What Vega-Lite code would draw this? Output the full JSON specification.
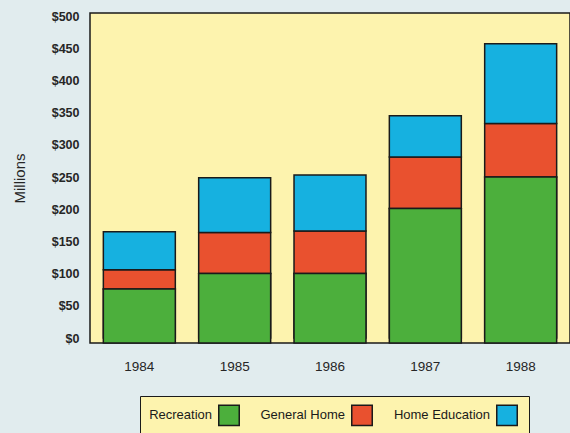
{
  "$schema": "https://vega.github.io/schema/vega-lite/v6.json",
  "width": 480,
  "height": 330,
  "autosize": {"type": "none"},
  "padding": {"left": 90, "top": 13, "right": 0, "bottom": 90},
  "background": "#e1ecee",
  "config": {
    "view": {"fill": "#fdf3ae", "stroke": "#1a1a1a", "strokeWidth": 1.5},
    "axis": {"labelFont": "Liberation Sans", "labelFontSize": 13, "labelColor": "#262626", "titleFont": "Liberation Sans", "titleColor": "#262626"}
  },
  "data": {
    "values": [
      {"year": "1984", "category": "Recreation", "order": 1, "value": 76},
      {"year": "1984", "category": "General Home", "order": 2, "value": 30},
      {"year": "1984", "category": "Home Education", "order": 3, "value": 59},
      {"year": "1985", "category": "Recreation", "order": 1, "value": 100},
      {"year": "1985", "category": "General Home", "order": 2, "value": 64},
      {"year": "1985", "category": "Home Education", "order": 3, "value": 85},
      {"year": "1986", "category": "Recreation", "order": 1, "value": 100},
      {"year": "1986", "category": "General Home", "order": 2, "value": 66},
      {"year": "1986", "category": "Home Education", "order": 3, "value": 87},
      {"year": "1987", "category": "Recreation", "order": 1, "value": 201},
      {"year": "1987", "category": "General Home", "order": 2, "value": 80},
      {"year": "1987", "category": "Home Education", "order": 3, "value": 64},
      {"year": "1988", "category": "Recreation", "order": 1, "value": 250},
      {"year": "1988", "category": "General Home", "order": 2, "value": 83},
      {"year": "1988", "category": "Home Education", "order": 3, "value": 124}
    ]
  },
  "encoding": {
    "x": {
      "field": "year",
      "type": "ordinal",
      "scale": {"paddingInner": 0.245, "paddingOuter": 0.14},
      "axis": {"title": null, "labelAngle": 0, "ticks": false, "domain": false, "labelPadding": 16, "labelFontSize": 13.5}
    }
  },
  "layer": [
    {
      "mark": {"type": "bar", "stroke": "#1a1a1a", "strokeWidth": 1.5, "opacity": 1},
      "encoding": {
        "y": {
          "field": "value",
          "type": "quantitative",
          "stack": "zero",
          "title": "Millions",
          "scale": {"domain": [-7.76, 504.66], "nice": false, "zero": false},
          "axis": {
            "values": [0, 50, 100, 150, 200, 250, 300, 350, 400, 450, 500],
            "format": "$d",
            "ticks": false,
            "domain": false,
            "grid": false,
            "labelOverlap": false,
            "labelPadding": 11,
            "labelFontWeight": "bold",
            "labelFontSize": 12.5,
            "titlePadding": 24,
            "titleFontSize": 15,
            "titleFontWeight": "normal"
          }
        },
        "order": {"field": "order", "type": "quantitative"},
        "color": {
          "field": "category",
          "type": "nominal",
          "sort": ["Recreation", "General Home", "Home Education"],
          "scale": {
            "domain": ["Recreation", "General Home", "Home Education"],
            "range": ["#4caf3c", "#e9512f", "#16b1e0"]
          },
          "legend": {
            "title": null,
            "orient": "none",
            "legendX": 50,
            "legendY": 383,
            "direction": "horizontal",
            "symbolType": "square",
            "symbolSize": 420,
            "symbolStrokeColor": "#1a1a1a",
            "symbolStrokeWidth": 1.5,
            "symbolOpacity": 1,
            "symbolOffset": 70,
            "labelAlign": "right",
            "labelOffset": -28,
            "labelFont": "Liberation Sans",
            "labelFontSize": 13,
            "labelColor": "#1a1a1a",
            "labelLimit": 200,
            "columnPadding": 17,
            "padding": 8,
            "fillColor": "#fdf3ae",
            "strokeColor": "#1a1a1a"
          }
        }
      }
    },
    {
      "transform": [{"filter": "datum.category === 'Recreation'"}],
      "mark": {"type": "bar", "color": "#4caf3c", "stroke": "#1a1a1a", "strokeWidth": 1.5, "opacity": 1},
      "encoding": {
        "y": {
          "field": "value",
          "type": "quantitative",
          "title": "Millions",
          "axis": {
            "values": [0, 50, 100, 150, 200, 250, 300, 350, 400, 450, 500],
            "format": "$d",
            "ticks": false,
            "domain": false,
            "grid": false,
            "labelOverlap": false,
            "labelPadding": 11,
            "labelFontWeight": "bold",
            "labelFontSize": 12.5,
            "titlePadding": 24,
            "titleFontSize": 15,
            "titleFontWeight": "normal"
          }
        },
        "y2": {"datum": -7.76}
      }
    }
  ]
}
